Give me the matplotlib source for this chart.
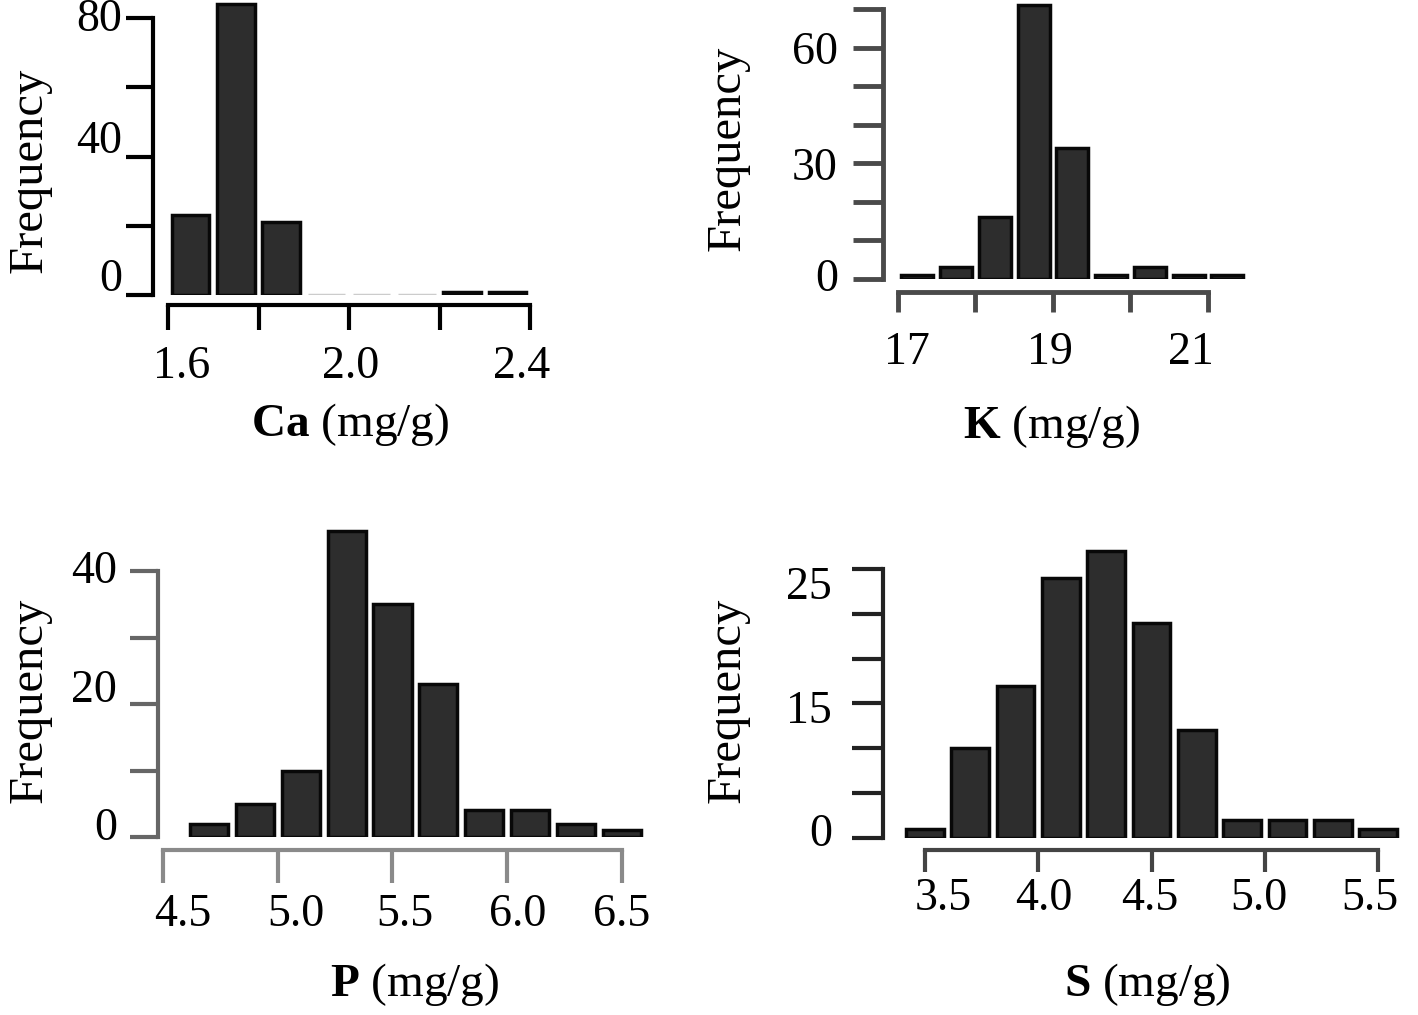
import matplotlib
matplotlib.use("Agg")
import matplotlib.pyplot as plt
import matplotlib.transforms as mtransforms

plt.rcParams['font.family'] = ['Liberation Serif', 'DejaVu Serif']
plt.rcParams['mathtext.fontset'] = 'custom'
plt.rcParams['mathtext.rm'] = 'Liberation Serif'
plt.rcParams['mathtext.bf'] = 'Liberation Serif:bold'

# data (left bin edges and counts)
ca_bins = [1.6, 1.7, 1.8, 1.9, 2.0, 2.1, 2.2, 2.3]
ca_counts = [23, 84, 21, 0, 0, 0, 1, 1]
ca_xticks = [1.6, 1.8, 2.0, 2.2, 2.4]
ca_xlabels = ['1.6', '', '2.0', '', '2.4']
ca_yticks = [0, 20, 40, 60, 80]
ca_ylabels = ['0', '', '40', '', '80']

k_bins = [17.0, 17.5, 18.0, 18.5, 19.0, 19.5, 20.0, 20.5, 21.0]
k_counts = [1, 3, 16, 71, 34, 1, 3, 1, 1]
k_xticks = [17, 18, 19, 20, 21]
k_xlabels = ['17', '', '19', '', '21']
k_yticks = [0, 10, 20, 30, 40, 50, 60, 70]
k_ylabels = ['0', '', '', '30', '', '', '60', '']

p_bins = [4.6, 4.8, 5.0, 5.2, 5.4, 5.6, 5.8, 6.0, 6.2, 6.4]
p_counts = [2, 5, 10, 46, 35, 23, 4, 4, 2, 1]
p_xticks = [4.5, 5.0, 5.5, 6.0, 6.5]
p_xlabels = ['4.5', '5.0', '5.5', '6.0', '6.5']
p_yticks = [0, 10, 20, 30, 40]
p_ylabels = ['0', '', '20', '', '40']

s_bins = [3.4, 3.6, 3.8, 4.0, 4.2, 4.4, 4.6, 4.8, 5.0, 5.2, 5.4]
s_counts = [1, 10, 17, 29, 32, 24, 12, 2, 2, 2, 1]
s_xticks = [3.5, 4.0, 4.5, 5.0, 5.5]
s_xlabels = ['3.5', '4.0', '4.5', '5.0', '5.5']
s_yticks = [0, 5, 10, 15, 20, 25, 30]
s_ylabels = ['0', '', '', '15', '', '25', '']

W, H = 1418, 1015
fig = plt.figure(figsize=(W / 100, H / 100), dpi=100)


def px(v):
    return v * 0.72  # pixels -> points


def shift(labels, offs):
    # the labels in the source sit a little off their ticks
    for lab, (dx, dy) in zip(labels, offs):
        lab.set_transform(lab.get_transform() +
                          mtransforms.ScaledTranslation(dx / 100, dy / 100, fig.dpi_scale_trans))


def panel(box, xlim, ylim, bins, counts, binw, xticks, xlabels, yticks, ylabels,
          off, ticklen, pads, col, lw, xoff, yoff):
    l, t, r, b = box
    ax = fig.add_axes([l / W, 1 - b / H, (r - l) / W, (b - t) / H])
    ax.patch.set_alpha(0)
    x = [v + binw / 2 for v in bins]
    edges = ['#cccccc' if c == 0 else '#080808' for c in counts]
    ax.bar(x, counts, width=binw * 0.83, color='#2d2d2d', edgecolor=edges, linewidth=2.5)
    ax.set_xlim(*xlim)
    ax.set_ylim(*ylim)
    for s in ['top', 'right']:
        ax.spines[s].set_visible(False)
    ax.spines['left'].set_position(('outward', px(off[0])))
    ax.spines['bottom'].set_position(('outward', px(off[1])))
    ax.spines['left'].set_bounds(yticks[0], yticks[-1])
    ax.spines['bottom'].set_bounds(xticks[0], xticks[-1])
    ax.spines['left'].set_color(col[0])
    ax.spines['bottom'].set_color(col[1])
    ax.spines['left'].set_linewidth(lw)
    ax.spines['bottom'].set_linewidth(lw)
    ax.set_xticks(xticks, xlabels)
    ax.set_yticks(yticks, ylabels)
    ax.tick_params(axis='y', length=px(ticklen[0]), width=lw, color=col[0],
                   pad=px(pads[0]), labelsize=33)
    ax.tick_params(axis='x', length=px(ticklen[1]), width=lw, color=col[1],
                   pad=px(pads[1]), labelsize=33)
    shift(ax.get_xticklabels(), xoff)
    shift(ax.get_yticklabels(), yoff)
    return ax


panel((168, 0.7, 530, 295), (1.6, 2.4), (0, 85), ca_bins, ca_counts, 0.1,
      ca_xticks, ca_xlabels, ca_yticks, ca_ylabels,
      (15, 10), (27, 25), (4, 15), ('black', 'black'), 3,
      [(14, 0), (0, 0), (2, 0), (0, 0), (-8, 0)],
      [(0, 20), (0, 0), (0, 20), (0, 0), (0, 3)])
panel((898, 1.3, 1254.5, 279), (17, 21.6), (0, 72), k_bins, k_counts, 0.5,
      k_xticks, k_xlabels, k_yticks, k_ylabels,
      (15, 13), (30, 20), (15, 20), ('#4a4a4a', '#4a4a4a'), 3.5,
      [(9, 0), (0, 0), (-3, 0), (0, 0), (-17, 0)],
      [(0, 4)] + [(0, 0)] * 7)
panel((163, 517.8, 656.4, 837), (4.5, 6.65), (0, 48), p_bins, p_counts, 0.2,
      p_xticks, p_xlabels, p_yticks, p_ylabels,
      (5, 13), (28, 33), (13, 11), ('#666666', '#8a8a8a'), 3,
      [(20, 0), (18, 0), (12, 0), (10, 0), (0, 0)],
      [(0, 13), (0, 0), (0, 18), (0, 0), (0, 4)])
panel((891, 533, 1412, 838), (3.35, 5.65), (0, 34), s_bins, s_counts, 0.2,
      s_xticks, s_xlabels, s_yticks, s_ylabels,
      (8, 12), (31, 22), (20, 6), ('#222222', '#444444'), 3,
      [(18, 0), (6, 0), (-2, 0), (-6, 0), (-8, 0)],
      [(0, 8), (0, 0), (0, 0), (0, -3), (0, 0), (0, 31), (0, 0)])

for cx, cy in [(30, 170), (728, 148), (30, 700), (728, 700)]:
    fig.text(cx / W, 1 - cy / H, 'Frequency', rotation=90, ha='center', va='center',
             fontsize=35)

for cx, cy, sym in [(350, 425, 'Ca'), (1052, 427, 'K'), (415, 985, 'P'), (1147, 985, 'S')]:
    fig.text(cx / W, 1 - cy / H, r'$\mathbf{%s}$ (mg/g)' % sym, ha='center', va='center',
             fontsize=34)

fig.savefig('out.png', dpi=100)
